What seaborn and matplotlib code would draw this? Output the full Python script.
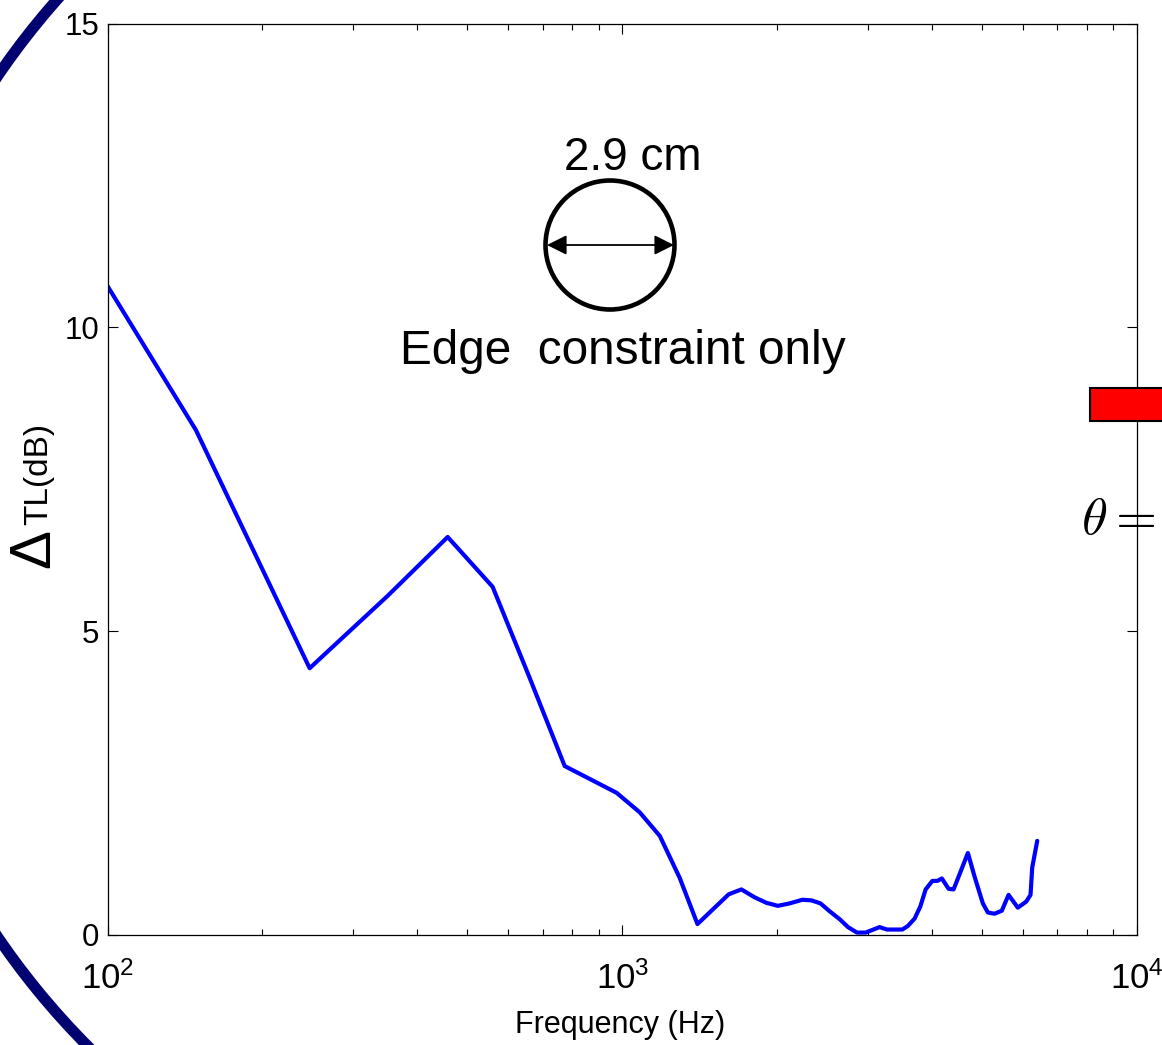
import numpy as np
import pandas as pd
import matplotlib
matplotlib.use("Agg")
import matplotlib.pyplot as plt
from matplotlib.patches import Circle, Rectangle, FancyArrowPatch
import seaborn as sns

# Transmission-loss improvement vs. frequency (edge-constrained plate, 2.9 cm)
freq_hz = [100, 148.5, 247, 350, 458, 560, 661, 773, 873, 975,
           1081, 1183, 1293, 1400, 1610, 1704, 1808, 1905, 2006, 2114,
           2238, 2331, 2427, 2529, 2645, 2745, 2857, 2971, 3162, 3267,
           3501, 3589, 3698, 3794, 3885, 4003, 4093, 4178, 4305, 4402,
           4536, 4693, 4836, 5018, 5132, 5288, 5463, 5629, 5868, 6093,
           6211, 6258, 6400]
delta_tl_db = [10.68, 8.31, 4.39, 5.58, 6.55, 5.73, 4.23, 2.78, 2.55, 2.34,
               2.02, 1.63, 0.94, 0.18, 0.67, 0.75, 0.62, 0.53, 0.48, 0.52,
               0.58, 0.57, 0.52, 0.39, 0.26, 0.13, 0.04, 0.04, 0.13, 0.09,
               0.09, 0.15, 0.27, 0.47, 0.75, 0.89, 0.89, 0.93, 0.76, 0.75,
               1.03, 1.35, 0.96, 0.52, 0.37, 0.35, 0.40, 0.66, 0.45, 0.55,
               0.66, 1.11, 1.55]
y_ticks = [0, 5, 10, 15]
x_ticks = [100, 1000, 10000]

df = pd.DataFrame({"freq": freq_hz, "dtl": delta_tl_db})

sns.set_theme(style="ticks")
plt.rcParams["font.family"] = ["Liberation Sans", "DejaVu Sans"]
plt.rcParams["mathtext.fontset"] = "custom"
plt.rcParams["mathtext.rm"] = "Liberation Sans"
plt.rcParams["mathtext.it"] = "Liberation Sans:italic"
plt.rcParams["mathtext.bf"] = "Liberation Sans:bold"
for key in ["text.color", "axes.labelcolor", "xtick.color", "ytick.color",
            "axes.edgecolor"]:
    plt.rcParams[key] = "black"

W, H = 1162, 1045
fig = plt.figure(figsize=(W / 100, H / 100), dpi=100)
fig.patch.set_facecolor("white")

ax_l, ax_r, ax_t, ax_b = 107.5, 1137, 23.5, 935
ax = fig.add_axes([ax_l / W, (H - ax_b) / H, (ax_r - ax_l) / W, (ax_b - ax_t) / H])
ax.set_facecolor("white")

sns.lineplot(data=df, x="freq", y="dtl", ax=ax, color="#0000ff",
             linewidth=3.0, estimator=None, sort=False)

ax.set_xscale("log")
ax.set_xlim(100, 10000)
ax.set_ylim(0, 15)
ax.set_xticks(x_ticks)
ax.set_yticks(y_ticks)
ax.set_xlabel("")
ax.set_ylabel("")

for side in ["left", "right", "top", "bottom"]:
    ax.spines[side].set_visible(True)
    ax.spines[side].set_color("black")
    ax.spines[side].set_linewidth(0.9)

ax.tick_params(axis="both", which="major", direction="in", length=7.5,
               width=0.8, color="black", top=True, right=True)
ax.tick_params(axis="x", which="minor", direction="in", length=4,
               width=0.8, color="black", top=True, bottom=True)
ax.tick_params(axis="y", which="minor", left=False, right=False)
ax.tick_params(axis="x", which="major", pad=19, labelsize=25)
ax.tick_params(axis="y", which="major", pad=6, labelsize=22.5)

# axis labels
fig.text(620 / W, 1 - 1025 / H, "Frequency (Hz)", fontsize=22,
         ha="center", va="center")
fig.text(34 / W, 1 - 549 / H, "\u0394", fontsize=42, rotation=90,
         ha="center", va="center")
fig.text(39 / W, 1 - 474 / H, "TL(dB)", fontsize=24, rotation=90,
         ha="center", va="center")

# inset sketch: circular plate with diameter arrow
px = fig.dpi_scale_trans
fig.patches.append(Circle((6.10, (H - 245) / 100), 0.645, transform=px,
                          fill=False, edgecolor="black", linewidth=3.3))
fig.add_artist(FancyArrowPatch(
    (547 / 100, (H - 245) / 100), (674 / 100, (H - 245) / 100),
    transform=px, arrowstyle="<|-|>", mutation_scale=30,
    color="black", linewidth=1.3, shrinkA=0, shrinkB=0))
fig.text(633 / W, 1 - 158 / H, "2.9 cm", fontsize=33, ha="center", va="center")
fig.text(623 / W, 1 - 351 / H, "Edge  constraint only", fontsize=34.4,
         ha="center", va="center")

# slide decorations around the plot
fig.patches.append(Circle((6.30, (H - 506.5) / 100), 7.65, transform=px,
                          fill=False, edgecolor="#000070", linewidth=8))
fig.patches.append(Rectangle((1090 / 100, (H - 421) / 100), 1.2, 0.33,
                             transform=px, facecolor="#ff0000",
                             edgecolor="black", linewidth=1.5, zorder=5))
fig.text(1081 / W, 1 - 520 / H, r"$\theta =$", fontsize=38,
         ha="left", va="center", math_fontfamily="cm")

fig.savefig("out.png", dpi=100, facecolor="white")
